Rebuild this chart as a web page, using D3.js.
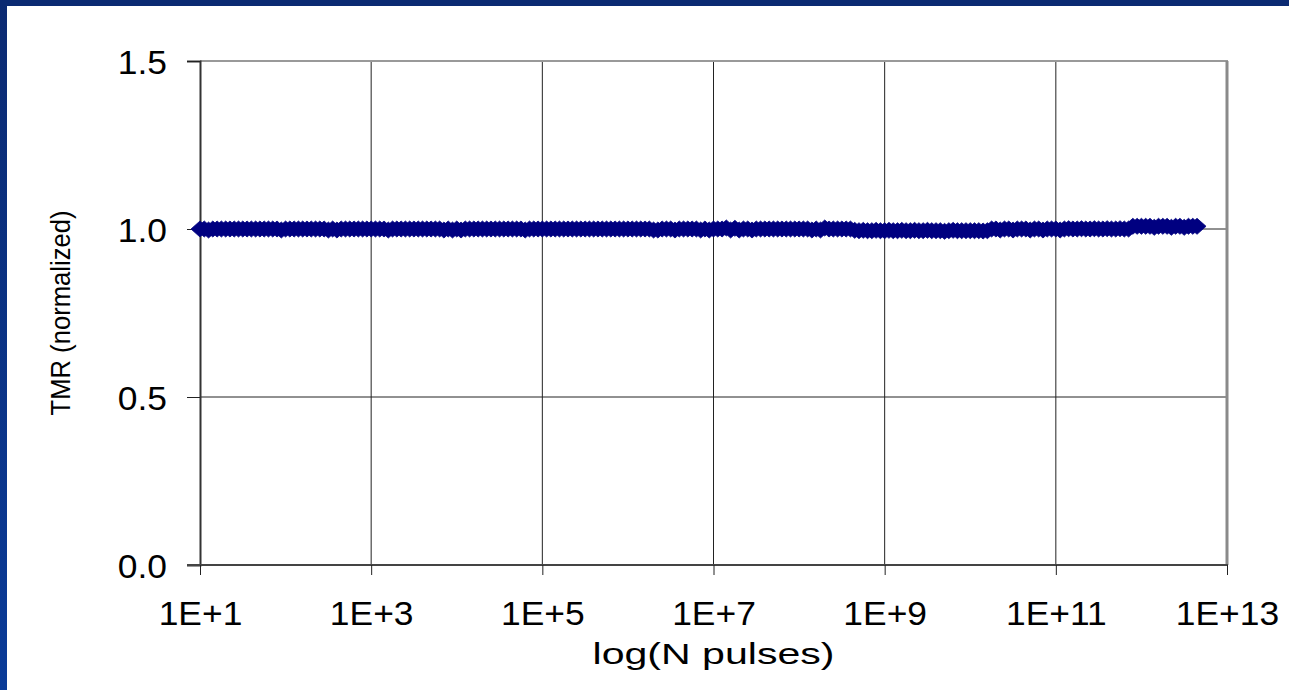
<!DOCTYPE html>
<html>
<head>
<meta charset="utf-8">
<script src="https://cdn.jsdelivr.net/npm/d3@7"></script>
<style>
  html, body { margin: 0; padding: 0; background: #fff; }
  svg { display: block; }
  text { font-family: "Liberation Sans", Arial, sans-serif; fill: #000; }
</style>
</head>
<body>
<svg id="chart" width="1289" height="690"></svg>
<script>
// log10 of the pulse count for each TMR reading (one decade per row)
const logPulses = [
  1.00,1.05,1.10,1.15,1.20,1.25,1.30,1.35,1.40,1.45,1.50,1.55,1.60,1.65,1.70,1.75,1.80,1.85,1.90,1.95,
  2.00,2.05,2.10,2.15,2.20,2.25,2.30,2.35,2.40,2.45,2.50,2.55,2.60,2.65,2.70,2.75,2.80,2.85,2.90,2.95,
  3.00,3.05,3.10,3.15,3.20,3.25,3.30,3.35,3.40,3.45,3.50,3.55,3.60,3.65,3.70,3.75,3.80,3.85,3.90,3.95,
  4.00,4.05,4.10,4.15,4.20,4.25,4.30,4.35,4.40,4.45,4.50,4.55,4.60,4.65,4.70,4.75,4.80,4.85,4.90,4.95,
  5.00,5.05,5.10,5.15,5.20,5.25,5.30,5.35,5.40,5.45,5.50,5.55,5.60,5.65,5.70,5.75,5.80,5.85,5.90,5.95,
  6.00,6.05,6.10,6.15,6.20,6.25,6.30,6.35,6.40,6.45,6.50,6.55,6.60,6.65,6.70,6.75,6.80,6.85,6.90,6.95,
  7.00,7.05,7.10,7.15,7.20,7.25,7.30,7.35,7.40,7.45,7.50,7.55,7.60,7.65,7.70,7.75,7.80,7.85,7.90,7.95,
  8.00,8.05,8.10,8.15,8.20,8.25,8.30,8.35,8.40,8.45,8.50,8.55,8.60,8.65,8.70,8.75,8.80,8.85,8.90,8.95,
  9.00,9.05,9.10,9.15,9.20,9.25,9.30,9.35,9.40,9.45,9.50,9.55,9.60,9.65,9.70,9.75,9.80,9.85,9.90,9.95,
  10.00,10.05,10.10,10.15,10.20,10.25,10.30,10.35,10.40,10.45,10.50,10.55,10.60,10.65,10.70,10.75,10.80,10.85,10.90,10.95,
  11.00,11.05,11.10,11.15,11.20,11.25,11.30,11.35,11.40,11.45,11.50,11.55,11.60,11.65,11.70,11.75,11.80,11.85,11.90,11.95,
  12.00,12.05,12.10,12.15,12.20,12.25,12.30,12.35,12.40,12.45,12.50,12.55,12.60,12.65
];

// normalized TMR at each reading
const tmrValues = [
  1.000,1.000,0.997,1.000,1.000,1.000,1.000,1.000,1.000,1.000,1.000,1.000,1.000,1.000,1.000,1.000,1.000,1.000,1.000,0.997,
  1.000,1.000,1.000,1.000,1.000,1.000,1.000,1.000,1.000,1.000,0.997,1.000,0.997,1.000,1.000,1.000,1.000,1.000,1.000,1.000,
  1.000,1.000,1.000,1.000,0.997,1.000,1.000,1.000,1.000,1.000,1.000,1.000,1.000,1.000,1.000,1.000,1.000,0.997,1.000,0.997,
  1.000,0.997,1.000,1.000,1.000,1.000,1.000,1.000,1.000,1.000,1.000,1.000,1.000,1.000,1.000,1.000,0.997,1.000,1.000,1.000,
  1.000,1.000,1.000,1.000,1.000,1.000,1.000,1.000,1.000,1.000,1.000,1.000,1.000,1.000,1.000,1.000,1.000,1.000,1.000,1.000,
  1.000,1.000,1.000,1.000,1.000,1.000,0.997,0.997,1.000,1.000,1.000,0.997,1.000,1.000,1.000,1.000,1.000,0.997,1.000,0.997,
  1.000,1.000,1.000,1.003,0.997,1.002,0.997,1.000,1.000,0.997,1.000,1.000,1.000,1.000,1.000,1.000,1.000,1.000,1.000,1.000,
  1.000,1.000,1.000,0.997,1.000,0.997,1.003,1.000,1.000,1.000,1.000,1.000,1.000,0.996,0.995,0.996,0.995,0.995,0.996,0.995,
  0.995,0.996,0.995,0.995,0.996,0.995,0.995,0.996,0.995,0.995,0.996,0.995,0.995,0.995,0.993,0.995,0.996,0.995,0.995,0.995,
  0.995,0.995,0.995,0.994,0.995,1.000,1.000,0.997,1.000,1.000,0.997,1.000,1.000,1.000,0.997,1.000,1.000,0.997,1.000,1.000,
  1.000,0.997,1.000,1.001,1.000,1.000,1.001,1.000,1.000,1.001,1.000,1.000,1.001,1.000,1.000,1.001,1.000,1.000,1.008,1.008,
  1.008,1.008,1.008,1.005,1.008,1.008,1.008,1.005,1.008,1.008,1.005,1.008,1.008,1.008
];

const yTicks = [0.0, 0.5, 1.0, 1.5];
const xTicks = [1e1, 1e3, 1e5, 1e7, 1e9, 1e11, 1e13];
const xTickLabels = ["1E+1", "1E+3", "1E+5", "1E+7", "1E+9", "1E+11", "1E+13"];

const svg = d3.select("#chart");
const W = 1289, H = 690;
const plot = { left: 200, top: 61, right: 1227, bottom: 565 };

// slide frame: dark blue bars along the top and left edges
const defs = svg.append("defs");
const grad = defs.append("linearGradient").attr("id", "frameGrad")
  .attr("x1", 0).attr("y1", 0).attr("x2", 0).attr("y2", 1);
grad.append("stop").attr("offset", "0%").attr("stop-color", "#0b2a72");
grad.append("stop").attr("offset", "100%").attr("stop-color", "#0a3b98");
svg.append("rect").attr("x", 0).attr("y", 0).attr("width", 7).attr("height", H).attr("fill", "url(#frameGrad)");
svg.append("rect").attr("x", 0).attr("y", 0).attr("width", W).attr("height", 6).attr("fill", "#0b2a72");

const x = d3.scaleLog().domain([1e1, 1e13]).range([plot.left, plot.right]);
const y = d3.scaleLinear().domain([0, 1.5]).range([plot.bottom, plot.top]);

// gridlines
const grid = svg.append("g");
grid.selectAll("line.vg").data(xTicks.slice(1, -1)).join("line")
  .attr("x1", d => x(d)).attr("x2", d => x(d))
  .attr("y1", plot.top).attr("y2", plot.bottom)
  .attr("stroke", "#222").attr("stroke-width", 1);
grid.selectAll("line.hg").data(yTicks.slice(1, -1)).join("line")
  .attr("x1", plot.left).attr("x2", plot.right)
  .attr("y1", d => y(d)).attr("y2", d => y(d))
  .attr("stroke", "#222").attr("stroke-width", 1);

// plot border (top and right)
svg.append("line").attr("x1", plot.left).attr("x2", plot.right + 1)
  .attr("y1", plot.top).attr("y2", plot.top)
  .attr("stroke", "#999").attr("stroke-width", 2);
svg.append("line").attr("x1", plot.right).attr("x2", plot.right)
  .attr("y1", plot.top).attr("y2", plot.bottom)
  .attr("stroke", "#8a8a8a").attr("stroke-width", 3);

// y axis
const yAxis = d3.axisLeft(y).tickValues(yTicks).tickSize(13).tickFormat(d3.format(".1f"));
const gy = svg.append("g").attr("transform", `translate(${plot.left},0)`).call(yAxis);
gy.select(".domain").attr("stroke", "#333").attr("stroke-width", 2);
gy.selectAll(".tick line").attr("stroke", "#222");
gy.selectAll(".tick text").remove();
gy.selectAll(".tick").append("text")
  .attr("transform", "translate(-33,12) scale(1.09,1)")
  .attr("text-anchor", "end")
  .style("font-size", "32.5px")
  .text(d => d3.format(".1f")(d));

// x axis
const xAxis = d3.axisBottom(x).tickValues(xTicks).tickSize(10).tickFormat((d, i) => xTickLabels[i]);
const gx = svg.append("g").attr("transform", `translate(0,${plot.bottom})`).call(xAxis);
gx.select(".domain").attr("stroke", "#444").attr("stroke-width", 2).attr("d", `M${plot.left - 13},0H${plot.right + 1}`);
gx.selectAll(".tick line").attr("stroke", "#222");
gx.selectAll(".tick text").remove();
gx.selectAll(".tick").append("text")
  .attr("transform", "translate(0,60) scale(1.09,1)")
  .attr("text-anchor", "middle")
  .style("font-size", "32.5px")
  .text((d, i) => xTickLabels[i]);

// diamond markers
const readings = logPulses.map((e, i) => ({ n: Math.pow(10, e), v: tmrValues[i] }));
const diamond = "M0,-8L9,0L0,8L-9,0Z";
svg.append("g").selectAll("path").data(readings).join("path")
  .attr("d", diamond)
  .attr("transform", d => `translate(${x(d.n)},${y(d.v)})`)
  .attr("fill", "#000080")
  .attr("stroke", "#000080")
  .attr("stroke-width", 0.8);

// axis titles
svg.append("text")
  .attr("transform", `translate(70,${(plot.top + plot.bottom) / 2}) rotate(-90)`)
  .attr("text-anchor", "middle")
  .style("font-size", "28px")
  .attr("textLength", 205).attr("lengthAdjust", "spacingAndGlyphs")
  .text("TMR (normalized)");

svg.append("text")
  .attr("x", (plot.left + plot.right) / 2)
  .attr("y", 664)
  .attr("text-anchor", "middle")
  .style("font-size", "30px")
  .attr("textLength", 242).attr("lengthAdjust", "spacingAndGlyphs")
  .text("log(N pulses)");
</script>
</body>
</html>
